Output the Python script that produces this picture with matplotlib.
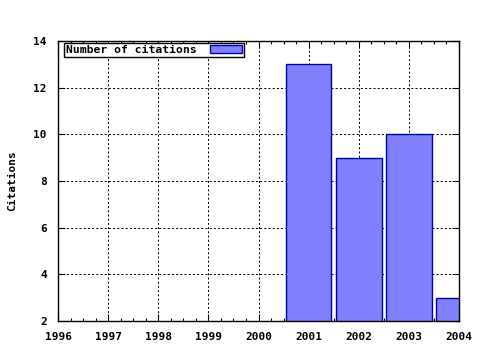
import matplotlib
matplotlib.use("Agg")
import matplotlib.pyplot as plt
from matplotlib.ticker import MultipleLocator

years = [2001, 2002, 2003, 2004]
citations = [13, 9, 10, 3]
x_ticks = [1996, 1997, 1998, 1999, 2000, 2001, 2002, 2003, 2004]
y_ticks = [2, 4, 6, 8, 10, 12, 14]

font = {"family": "DejaVu Sans Mono", "weight": "bold", "size": 8}

fig = plt.figure(figsize=(4.8, 3.5), dpi=100)
ax = fig.add_axes([58/480, 1 - 321/350, (459 - 58)/480, (321 - 41)/350])

ax.bar(years, citations, width=0.91, color="#8080ff", edgecolor="#0000a0",
       linewidth=1.0, label="Number of citations", zorder=3)

ax.set_xlim(1996, 2004)
ax.set_ylim(2, 14)
ax.set_xticks(x_ticks)
ax.set_yticks(y_ticks)
ax.xaxis.set_minor_locator(MultipleLocator(0.25))
ax.set_xticklabels([str(v) for v in x_ticks], fontdict=font)
ax.set_yticklabels([str(v) for v in y_ticks], fontdict=font)

ax.tick_params(axis="both", which="major", direction="in", length=5, width=0.8,
               top=True, right=True)
ax.tick_params(axis="x", which="major", pad=8)
ax.tick_params(axis="y", which="major", pad=8)
ax.tick_params(axis="x", which="minor", direction="in", length=2.5, width=0.8,
               top=True, bottom=True)

ax.grid(True, which="major", color="black", linestyle=(0, (2, 2.2)), linewidth=0.72, zorder=0)
ax.set_axisbelow(True)
for s in ax.spines.values():
    s.set_linewidth(1.0)
    s.set_zorder(5)

ax.set_ylabel("Citations", fontdict=font, labelpad=12)

leg = ax.legend(loc="upper left", markerfirst=False,
                prop={"family": "DejaVu Sans Mono", "weight": "bold", "size": 8.2},
                frameon=True, fancybox=False, borderpad=0.2, handlelength=2.8, handleheight=0.6,
                handletextpad=1.2, borderaxespad=0.15, bbox_to_anchor=(0.01, 1.0))
leg.get_frame().set_edgecolor("black")
leg.get_frame().set_linewidth(1.0)
leg.get_frame().set_alpha(1)

fig.savefig("out.png", dpi=100)
